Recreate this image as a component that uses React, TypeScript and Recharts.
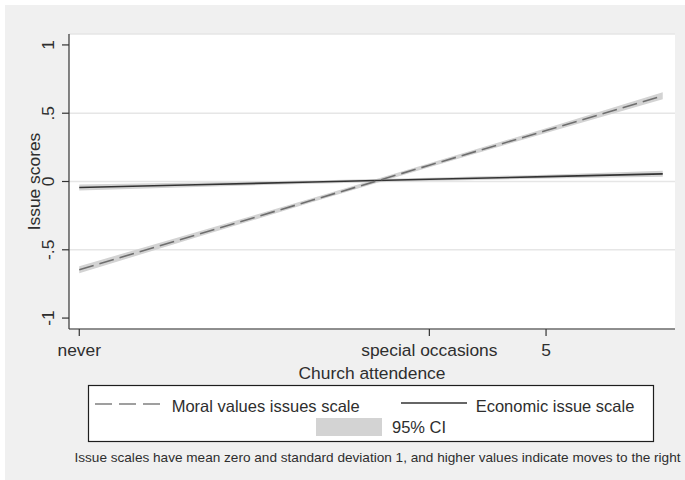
import React from 'react';
import { ComposedChart, Line, Area, XAxis, YAxis, CartesianGrid } from 'recharts';

// ---- data ----
const attendance = [1, 2, 3, 4, 5, 6];
const moral = [-0.646, -0.391, -0.136, 0.119, 0.373, 0.628];
const moralLow = [-0.672, -0.41, -0.151, 0.105, 0.356, 0.603];
const moralHigh = [-0.62, -0.372, -0.121, 0.133, 0.39, 0.653];
const economic = [-0.044, -0.024, -0.004, 0.016, 0.036, 0.056];
const economicLow = [-0.066, -0.04, -0.016, 0.004, 0.022, 0.034];
const economicHigh = [-0.022, -0.008, 0.008, 0.028, 0.05, 0.078];

const xTicks = [1, 4, 5];
const xTickLabels = ['never', 'special occasions', '5'];
const yTicks = [-1, -0.5, 0, 0.5, 1];
const yTickLabels = ['-1', '-.5', '0', '.5', '1'];
const gridTicks = [-0.5, 0, 0.5];
const xDomain = [0.912, 6.105];
const yDomain = [-1.08, 1.08];

const seriesNames = ['Moral values issues scale', 'Economic issue scale'];
const ciLabel = '95% CI';
const xTitle = 'Church attendence';
const yTitle = 'Issue scores';
const footnote =
  'Issue scales have mean zero and standard deviation 1, and higher values indicate moves to the right';

const rows = attendance.map((x, i) => ({
  x,
  moral: moral[i],
  moralCI: [moralLow[i], moralHigh[i]],
  economic: economic[i],
  economicCI: [economicLow[i], economicHigh[i]],
}));

const FONT = '"Liberation Sans", Arial, Helvetica, sans-serif';
const TEXT = '#2e2e2e';
const AXIS = '#333333';

const YTick = (props: any) => {
  const { x, y, payload } = props;
  const i = yTicks.indexOf(payload.value);
  return (
    <text
      x={x}
      y={y}
      transform={`rotate(-90 ${x} ${y})`}
      textAnchor="middle"
      fontSize={17.4}
      fontFamily={FONT}
      fill={TEXT}
    >
      {i >= 0 ? yTickLabels[i] : String(payload.value)}
    </text>
  );
};

const XTick = (props: any) => {
  const { x, y, payload } = props;
  const i = xTicks.indexOf(payload.value);
  return (
    <text x={x} y={y} dy="0.71em" textAnchor="middle" fontSize={17.4} fontFamily={FONT} fill={TEXT}>
      {i >= 0 ? xTickLabels[i] : String(payload.value)}
    </text>
  );
};

const YTitle = (props: any) => {
  const vb = props.viewBox || { x: 0, y: 0, width: 0, height: 0 };
  const cx = vb.x + 40;
  const cy = vb.y + vb.height / 2;
  return (
    <text
      x={cx}
      y={cy}
      transform={`rotate(-90 ${cx} ${cy})`}
      textAnchor="middle"
      fontSize={17.4}
      fontFamily={FONT}
      fill={TEXT}
    >
      {yTitle}
    </text>
  );
};

const XTitle = (props: any) => {
  const vb = props.viewBox || { x: 0, y: 0, width: 0, height: 0 };
  return (
    <text
      x={vb.x + vb.width / 2}
      y={vb.y + 49.5}
      textAnchor="middle"
      fontSize={17.4}
      fontFamily={FONT}
      fill={TEXT}
    >
      {xTitle}
    </text>
  );
};

export default function App() {
  return (
    <div style={{ position: 'absolute', left: 0, top: 0, width: 685, height: 480, background: '#ffffff' }}>
      <div style={{ position: 'absolute', left: 5, top: 5, width: 680, height: 475, background: '#f0f0f0' }} />
      <div style={{ position: 'absolute', left: 0, top: 0 }}>
        <ComposedChart width={685} height={480} data={rows} margin={{ top: 34, right: 10, bottom: 101, left: 0 }}>
          <CartesianGrid
            yAxisId="grid"
            vertical={false}
            fill="#ffffff"
            stroke="#e6e6e6"
            strokeWidth={1.5}
          />
          <XAxis
            type="number"
            dataKey="x"
            domain={xDomain}
            ticks={xTicks}
            allowDataOverflow
            height={50}
            tickSize={7}
            tickMargin={8}
            axisLine={{ stroke: AXIS, strokeWidth: 1.2 }}
            tickLine={{ stroke: AXIS, strokeWidth: 1.2 }}
            tick={<XTick />}
            label={<XTitle />}
          />
          <YAxis
            type="number"
            domain={yDomain}
            ticks={yTicks}
            allowDataOverflow
            width={69}
            tickSize={7}
            tickMargin={8}
            axisLine={{ stroke: AXIS, strokeWidth: 1.2 }}
            tickLine={{ stroke: AXIS, strokeWidth: 1.2 }}
            tick={<YTick />}
            label={<YTitle />}
          />
          <YAxis yAxisId="grid" type="number" domain={yDomain} ticks={gridTicks} allowDataOverflow hide />
          <Area
            dataKey="moralCI"
            stroke="none"
            fill="#d3d3d3"
            fillOpacity={1}
            isAnimationActive={false}
            type="linear"
          />
          <Area
            dataKey="economicCI"
            stroke="none"
            fill="#d3d3d3"
            fillOpacity={1}
            isAnimationActive={false}
            type="linear"
          />
          <Line
            dataKey="economic"
            stroke="#333333"
            strokeWidth={1.6}
            dot={false}
            type="linear"
            isAnimationActive={false}
          />
          <Line
            dataKey="moral"
            stroke="#6e6e6e"
            strokeWidth={1.6}
            strokeDasharray="15 6"
            dot={false}
            type="linear"
            isAnimationActive={false}
          />
        </ComposedChart>
      </div>
      <svg
        width={685}
        height={480}
        style={{ position: 'absolute', left: 0, top: 0, pointerEvents: 'none' }}
        fontFamily={FONT}
      >
        <rect x={88.5} y={385.5} width={565} height={56} fill="#ffffff" stroke="#1e1e1e" strokeWidth={1.2} />
        <line x1={95} x2={161} y1={404} y2={404} stroke="#808080" strokeWidth={1.6} strokeDasharray="17 7" />
        <text x={171.7} y={412} fontSize={16.5} fill={TEXT}>
          {seriesNames[0]}
        </text>
        <line x1={401} x2={467} y1={403} y2={403} stroke="#333333" strokeWidth={1.6} />
        <text x={475.7} y={412} fontSize={16.5} fill={TEXT}>
          {seriesNames[1]}
        </text>
        <rect x={316} y={418} width={66} height={18} fill="#d3d3d3" />
        <text x={392} y={432.7} fontSize={16.5} fill={TEXT}>
          {ciLabel}
        </text>
        <text x={680.5} y={462} textAnchor="end" fontSize={13.6} fill={TEXT}>
          {footnote}
        </text>
      </svg>
    </div>
  );
}
